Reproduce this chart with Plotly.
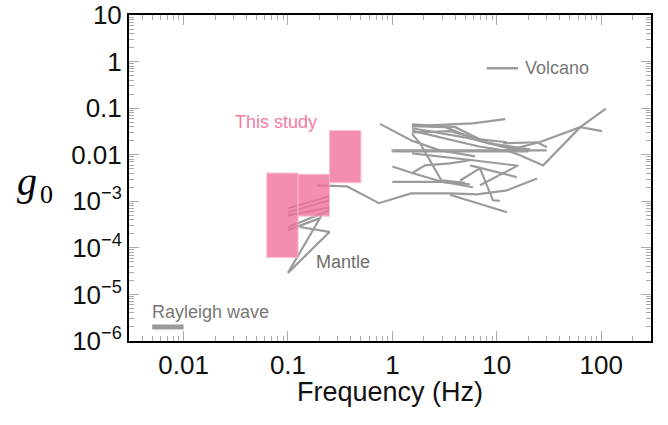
import plotly.graph_objects as go
import math

# ---------------- data ----------------
# "This study" octave bands (Hz) and g0 ranges
band_lo = [0.0625, 0.125, 0.25]
band_hi = [0.125, 0.25, 0.5]
g_lo = [6.2e-5, 4.8e-4, 2.5e-3]
g_hi = [4.05e-3, 3.8e-3, 3.3e-2]

# Mantle curves (frequency, g0)
mantle_f = [
    [0.189, 0.367, 0.743, 1.51, 3.56, 6.45, 12.5, 24.3],
    [0.1, 0.25],
    [0.1, 0.25],
    [0.1, 0.25],
    [0.1, 0.25],
    [0.1, 0.2],
    [0.13, 0.25, 0.1],
    [0.1, 0.21],
]
mantle_g = [
    [0.0022, 0.0021, 0.00091, 0.00148, 0.00148, 0.00141, 0.00172, 0.0031],
    [0.00071, 0.00128],
    [0.00058, 0.00105],
    [0.0005, 0.00074],
    [0.000276, 0.00064],
    [0.00024, 0.00043],
    [0.00028, 0.00022, 2.9e-5],
    [2.9e-5, 0.0005],
]

# Volcano curves (frequency, g0)
volcano_f = [
    [0.76, 1.54, 2.86, 6.2],
    [1.54, 5.9, 12.0],
    [1.54, 3.2, 6.9, 16.7],
    [1.54, 2.86, 5.55, 12.0, 20.8],
    [1.54, 2.56, 6.6, 15.0],
    [1.54, 3.56, 6.9, 12.5],
    [1.54, 4.0, 8.2, 20.8],
    [0.98, 30.0],
    [1.0, 20.0],
    [1.0, 1.57, 3.1, 5.55],
    [1.0, 3.1, 5.9],
    [1.54, 2.05, 3.56, 5.55],
    [1.54, 1.84, 2.95, 5.0],
    [4.45, 6.9, 9.2, 10.7],
    [3.56, 12.5],
    [6.9, 16.0],
    [5.55, 15.5],
    [11.5, 24.3, 30.3],
    [1.54, 2.86, 5.9, 16.0],
    [12.5, 16.7, 27.8, 63.0, 111.0],
    [12.5, 26.0, 32.5, 63.0, 102.0],
]
volcano_g = [
    [0.046, 0.020, 0.0124, 0.0092],
    [0.041, 0.047, 0.058],
    [0.041, 0.039, 0.020, 0.0124],
    [0.037, 0.029, 0.0225, 0.0144, 0.0124],
    [0.033, 0.025, 0.0152, 0.0113],
    [0.030, 0.032, 0.0214, 0.0185],
    [0.045, 0.039, 0.0176, 0.0131],
    [0.0124, 0.0124],
    [0.0118, 0.0118],
    [0.0056, 0.0040, 0.00256, 0.00232],
    [0.0026, 0.0026, 0.0020],
    [0.0040, 0.0059, 0.0065, 0.0076],
    [0.028, 0.0176, 0.0028, 0.0025],
    [0.0028, 0.0051, 0.00105, 0.00102],
    [0.00138, 0.00058],
    [0.0022, 0.0059],
    [0.0059, 0.0033],
    [0.0176, 0.0185, 0.0144],
    [0.0107, 0.0092, 0.0076, 0.0058],
    [0.0124, 0.0097, 0.0059, 0.039, 0.098],
    [0.0124, 0.0187, 0.0225, 0.039, 0.032],
]

# Rayleigh wave and legend sample
rayleigh_f = [0.005, 0.01]
rayleigh_g = [2.0e-6, 2.0e-6]
legend_f = [8.0, 16.0]
legend_g = [0.72, 0.72]

x_ticks = [0.01, 0.1, 1, 10, 100]
x_ticklabels = ["0.01", "0.1", "1", "10", "100"]
y_ticks = [1e-6, 1e-5, 1e-4, 1e-3, 0.01, 0.1, 1, 10]
y_ticklabels = ["10<sup>−6</sup>", "10<sup>−5</sup>", "10<sup>−4</sup>", "10<sup>−3</sup>",
                "0.01", "0.1", "1", "10"]

# ---------------- figure ----------------
GRAY = "#9b9b9b"
PINK = "rgb(242,115,158)"
SANS = "Liberation Sans, Arial, sans-serif"
SERIF = "Liberation Serif, Times New Roman, serif"
fig = go.Figure()

for fx, gy in zip(mantle_f + volcano_f, mantle_g + volcano_g):
    fig.add_trace(go.Scatter(x=fx, y=gy, mode="lines",
                             line=dict(color=GRAY, width=2.2), showlegend=False,
                             hoverinfo="skip"))

for lo, hi, a, b in zip(band_lo, band_hi, g_lo, g_hi):
    fig.add_trace(go.Scatter(x=[lo, hi, hi, lo, lo], y=[a, a, b, b, a], mode="lines",
                             fill="toself", fillcolor=PINK, opacity=0.8,
                             line=dict(color="rgba(250,180,200,1)", width=1),
                             showlegend=False, hoverinfo="skip"))

fig.add_trace(go.Scatter(x=rayleigh_f, y=rayleigh_g, mode="lines",
                         line=dict(color=GRAY, width=5), showlegend=False))
fig.add_trace(go.Scatter(x=legend_f, y=legend_g, mode="lines",
                         line=dict(color=GRAY, width=2.5), showlegend=False))

ann_font = dict(family=SANS, size=18)
fig.add_annotation(x=math.log10(0.0766), y=math.log10(0.0497), text="This study",
                   showarrow=False, font=dict(ann_font, color="#f27ba3"))
fig.add_annotation(x=math.log10(0.177), y=math.log10(4.9e-5), text="Mantle",
                   showarrow=False, xanchor="left", font=dict(ann_font, color="#6e6e6e"))
fig.add_annotation(x=math.log10(0.0048), y=math.log10(4.3e-6), text="Rayleigh wave",
                   showarrow=False, xanchor="left", font=dict(ann_font, color="#777777"))
fig.add_annotation(x=math.log10(18.0), y=math.log10(0.72), text="Volcano",
                   showarrow=False, xanchor="left", font=dict(ann_font, color="#777777"))
# y-axis title g0 (horizontal)
fig.add_annotation(xref="paper", yref="paper", x=-0.218, y=0.49, xanchor="left",
                   yanchor="middle", showarrow=False, text="<i>g</i>",
                   font=dict(family=SERIF, size=40, color="black"))
fig.add_annotation(xref="paper", yref="paper", x=-0.175, y=0.448, xanchor="left",
                   yanchor="middle", showarrow=False, text="0",
                   font=dict(family=SERIF, size=26, color="black"))
# x-axis title
fig.add_annotation(xref="paper", yref="paper", x=0.5, y=-0.157, xanchor="center",
                   yanchor="middle", showarrow=False, text="Frequency (Hz)",
                   font=dict(family=SANS, size=27, color="#111"))

minor_x = [m * 10 ** e for e in range(-3, 3) for m in range(2, 10)]
minor_y = [m * 10 ** e for e in range(-6, 1) for m in range(2, 10)]

tick_font = dict(family=SANS, size=26, color="#111")
common = dict(type="log", showgrid=False, zeroline=False, showline=True,
              linecolor="black", linewidth=2, mirror="ticks", ticks="inside",
              ticklen=10, tickwidth=1, tickcolor="#aaaaaa", tickfont=tick_font,
              automargin=False, ticklabeloverflow="allow")

fig.update_xaxes(**common, range=[math.log10(0.003), math.log10(300)],
                 tickmode="array", tickvals=x_ticks, ticktext=x_ticklabels,
                 minor=dict(tickmode="array", tickvals=minor_x, ticks="inside",
                            ticklen=5, tickcolor="#aaaaaa", tickwidth=1))
fig.update_yaxes(**common, range=[-6, 1], tickmode="array", tickvals=y_ticks,
                 ticktext=y_ticklabels,
                 minor=dict(tickmode="array", tickvals=minor_y, ticks="inside",
                            ticklen=5, tickcolor="#aaaaaa", tickwidth=1))

fig.update_layout(width=668, height=425, margin=dict(l=129, r=17, t=15, b=84),
                  plot_bgcolor="white", paper_bgcolor="white", showlegend=False)

# remove the default 8 px page margin so the figure fills the 668x425 window
fig.write_html("out.html", config={"displayModeBar": False},
               post_script="document.body.style.margin='0px';")
